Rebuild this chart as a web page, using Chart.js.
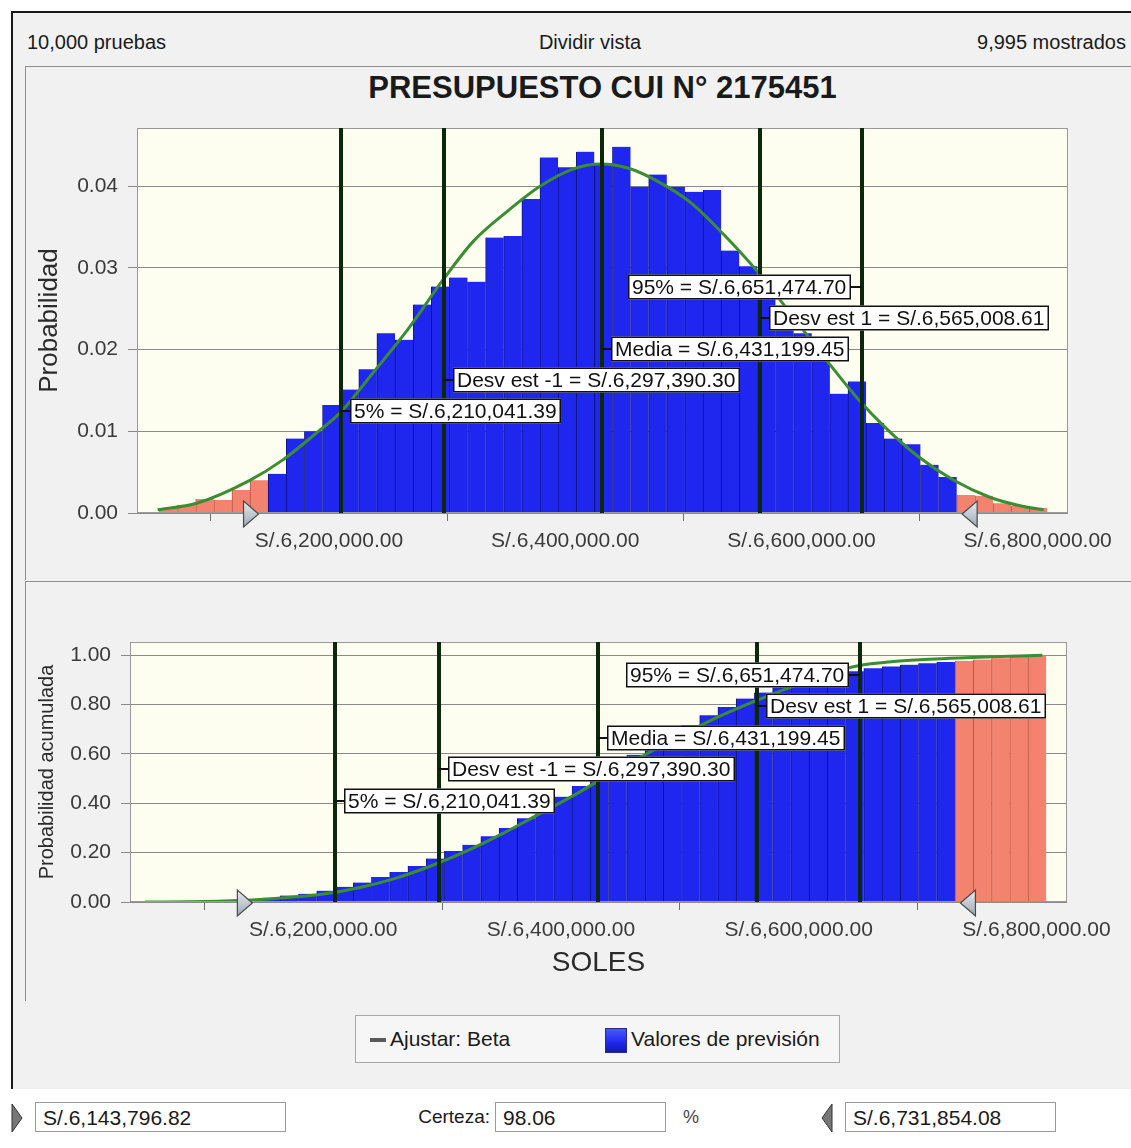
<!DOCTYPE html>
<html><head><meta charset="utf-8">
<script src="https://cdn.jsdelivr.net/npm/chart.js@4.4.1/dist/chart.umd.min.js"></script>
<style>
html,body{margin:0;padding:0;background:#fff;}
body{width:1131px;height:1148px;position:relative;overflow:hidden;font-family:"Liberation Sans",Arial,sans-serif;color:#1a1a1a;}
.abs{position:absolute;}
#frame{left:11px;top:11px;width:1130px;height:1076px;border-left:2px solid #1a1a1a;border-top:2px solid #1a1a1a;background:#f1f1f1;}
.hdr{top:30px;font-size:20px;line-height:24px;white-space:nowrap;}
.hline{height:0;border-top:1px solid #8e8e8e;}
.vline{width:0;border-left:1px solid #8e8e8e;}
#title{left:137px;width:931px;top:70px;line-height:36px;text-align:center;font-weight:bold;font-size:31px;}
canvas{position:absolute;left:0;}
#legend{left:355px;top:1015px;width:483px;height:46px;border:1px solid #a8a8a8;background:#f6f6f6;}
.lgi{position:absolute;top:0;height:46px;line-height:46px;font-size:21px;white-space:nowrap;}
.box{position:absolute;top:1102px;height:30px;background:#fff;border:1px solid #9a9a9a;font-size:21px;line-height:30px;padding-left:7px;box-sizing:border-box;white-space:nowrap;}
.lbl{position:absolute;top:1102px;height:30px;line-height:30px;font-size:21px;white-space:nowrap;}
</style>
</head>
<body>
<div id="frame" class="abs"></div>
<div class="abs hdr" style="left:27px;">10,000 pruebas</div>
<div class="abs hdr" style="left:490px;width:200px;text-align:center;">Dividir vista</div>
<div class="abs hdr" style="right:5px;">9,995 mostrados</div>
<div class="abs hline" style="left:25px;top:66px;width:1106px;"></div>
<div class="abs vline" style="left:25px;top:66px;height:514px;"></div>
<div class="abs hline" style="left:25px;top:581px;width:1106px;"></div>
<div class="abs vline" style="left:25px;top:581px;height:420px;"></div>
<div id="title" class="abs">PRESUPUESTO CUI N° 2175451</div>
<canvas id="c1" width="1131" height="470" style="top:100px;"></canvas>
<canvas id="c2" width="1131" height="400" style="top:600px;"></canvas>
<div id="legend" class="abs"></div>
<svg class="abs" style="left:10px;top:1102px;" width="14" height="32"><polygon points="2,2 12,16 2,30" fill="#777" stroke="#333"/></svg>
<div class="box" style="left:35px;width:251px;" id="fMin"></div>
<div class="lbl" style="left:390px;width:100px;text-align:right;font-size:19px;">Certeza:</div>
<div class="box" style="left:495px;width:171px;" id="fCert"></div>
<div class="lbl" style="left:683px;font-size:18px;color:#444;">%</div>
<svg class="abs" style="left:820px;top:1102px;" width="14" height="32"><polygon points="12,2 2,16 12,30" fill="#777" stroke="#333"/></svg>
<div class="box" style="left:845px;width:211px;" id="fMax"></div>

<script>
// ---------------- DATA ----------------
const binCenters = [6064190,6079530,6094870,6110210,6125550,6140890,6156230,6171570,6186910,6202250,
  6217590,6232930,6248270,6263610,6278950,6294290,6309630,6324970,6340310,6355650,
  6370990,6386330,6401670,6417010,6432350,6447690,6463030,6478370,6493710,6509050,
  6524390,6539730,6555070,6570410,6585750,6601090,6616430,6631770,6647110,6662450,
  6677790,6693130,6708470,6723810,6739150,6754490,6769830,6785170,6800510];
const probabilidad = [0.0006,0.0010,0.0017,0.0016,0.0028,0.0040,
  0.0048,0.0091,0.0100,0.0132,0.0151,0.0176,0.0220,0.0212,0.0255,0.0277,
  0.0288,0.0283,0.0337,0.0339,0.0384,0.0435,0.0423,0.0442,0.0428,0.0448,
  0.0399,0.0414,0.0399,0.0393,0.0395,0.0321,0.0302,0.0270,0.0250,0.0220,
  0.0200,0.0146,0.0161,0.0110,0.0091,0.0084,0.0059,0.0044,
  0.0022,0.0021,0.0012,0.0009,0.0006];
const acumulada = [0.0006,0.0016,0.0033,0.0049,0.0077,0.0117,
  0.017,0.026,0.033,0.046,0.062,0.079,0.101,0.122,0.146,0.176,
  0.207,0.232,0.267,0.300,0.340,0.382,0.427,0.470,0.513,0.557,
  0.597,0.638,0.678,0.718,0.757,0.790,0.825,0.849,0.871,0.890,
  0.908,0.921,0.935,0.948,0.955,0.962,0.968,0.973,
  0.978,0.983,0.988,0.994,0.999];
const ajusteX = [6055000,6088000,6133000,6161000,6192000,6209000,6237000,6266000,6297000,6322000,
  6351000,6379000,6407000,6430000,6453000,6478000,6506000,6534000,6563000,6593000,
  6625000,6650000,6670000,6698000,6729000,6760000,6788000,6805000];
const ajustePdf = [0.0004,0.0012,0.0040,0.0065,0.0101,0.0122,0.0171,0.0223,0.0286,0.0332,
  0.0369,0.0400,0.0421,0.0427,0.0422,0.0406,0.0380,0.0341,0.0295,0.0240,
  0.0180,0.0136,0.0106,0.0070,0.0040,0.0019,0.0008,0.0004];
const ajusteCdfX = [6050000,6100000,6140000,6170000,6200000,6230000,6260000,6290000,6320000,6350000,
  6380000,6410000,6440000,6470000,6500000,6530000,6560000,6590000,6620000,6650000,
  6680000,6710000,6740000,6770000,6805000];
const ajusteCdf = [0.000,0.002,0.008,0.018,0.032,0.058,0.095,0.145,0.205,0.275,
  0.352,0.430,0.515,0.595,0.672,0.745,0.808,0.865,0.918,0.958,
  0.975,0.984,0.990,0.995,1.000];
const xTicks = [6200000,6400000,6600000,6800000];
const yTicksProb = [0,0.01,0.02,0.03,0.04];
const yTicksAcum = [0,0.2,0.4,0.6,0.8,1.0];
const certezaMin = 6143796.82;
const certezaMax = 6731854.08;
const certeza = 98.06;
const marcadores = [
  {nombre:'95%', valor:6651474.70},
  {nombre:'Desv est 1', valor:6565008.61},
  {nombre:'Media', valor:6431199.45},
  {nombre:'Desv est -1', valor:6297390.30},
  {nombre:'5%', valor:6210041.39}
];
const serieAjuste = 'Ajustar: Beta';
const serieValores = 'Valores de previsión';

// ---------------- STYLE ----------------
const FONT = "'Liberation Sans', Arial, sans-serif";
Chart.defaults.font.family = FONT;
Chart.defaults.color = '#3a3a3a';
const AZUL = '#1f27ee', AZUL_B = '#0d1488', ROJO = '#f3826f', ROJO_B = '#b45544';
const fmt = v => v.toLocaleString('en-US',{minimumFractionDigits:2, maximumFractionDigits:2});
const enCerteza = x => x >= certezaMin && x <= certezaMax;
const barBg = binCenters.map(x => enCerteza(x) ? AZUL : ROJO);
const barBd = binCenters.map(x => enCerteza(x) ? AZUL_B : ROJO_B);

function deco(opts){
  return {
    id:'deco',
    beforeDraw(chart){
      const {ctx, chartArea:a} = chart;
      ctx.save(); ctx.fillStyle = '#fefef0';
      ctx.fillRect(a.left, a.top, a.right-a.left, a.bottom-a.top); ctx.restore();
    },
    afterDatasetsDraw(chart){
      const {ctx, chartArea:a, scales:{x}} = chart;
      ctx.save();
      ctx.strokeStyle = '#9a9a9a'; ctx.lineWidth = 1;
      ctx.strokeRect(a.left+0.5, a.top+0.5, a.right-a.left-1, a.bottom-a.top-1);
      marcadores.forEach(m => {
        const px = Math.round(x.getPixelForValue(m.valor));
        ctx.strokeStyle = '#0c280c'; ctx.lineWidth = 4;
        ctx.beginPath(); ctx.moveTo(px, a.top); ctx.lineTo(px, a.bottom); ctx.stroke();
      });
      ctx.font = '21px ' + FONT; ctx.textBaseline = 'middle';
      marcadores.forEach((m, i) => {
        const px = Math.round(x.getPixelForValue(m.valor));
        const cy = Math.round(a.top + opts.labelTop + i*opts.labelStep);
        const txt = m.nombre + ' = S/.' + fmt(m.valor);
        const w = Math.ceil(ctx.measureText(txt).width) + 8, h = 25;
        const izq = i === 0;
        const bx = izq ? px - 11 - w : px + 9;
        ctx.strokeStyle = '#111'; ctx.lineWidth = 2;
        ctx.beginPath(); ctx.moveTo(px, cy); ctx.lineTo(izq ? bx + w : bx, cy); ctx.stroke();
        ctx.fillStyle = '#fff'; ctx.fillRect(bx, cy - h/2, w, h);
        ctx.strokeStyle = '#111'; ctx.lineWidth = 1.5;
        ctx.strokeRect(bx + 0.75, cy - h/2 + 0.75, w - 1.5, h - 1.5);
        ctx.fillStyle = '#111'; ctx.fillText(txt, bx + 4, cy + 1);
      });
      const yb = a.bottom + 1;
      const tri = (tip, dir) => {
        const g = ctx.createLinearGradient(0, yb-13, 0, yb+13);
        g.addColorStop(0, '#e6ebf0'); g.addColorStop(1, '#9ea8b3');
        ctx.fillStyle = g; ctx.strokeStyle = '#4a4a4a'; ctx.lineWidth = 1.2;
        ctx.beginPath(); ctx.moveTo(tip, yb);
        ctx.lineTo(tip - dir*15, yb - 13); ctx.lineTo(tip - dir*15, yb + 13); ctx.closePath();
        ctx.fill(); ctx.stroke();
      };
      tri(x.getPixelForValue(certezaMin) - 4, 1);
      tri(x.getPixelForValue(certezaMax) + 5, -1);
      ctx.restore();
    }
  };
}

function makeChart(id, barVals, fitX, fitY, o){
  return new Chart(document.getElementById(id), {
    type:'bar',
    data:{datasets:[
      {type:'line', label:serieAjuste, order:0,
       data: fitX.map((x,i)=>({x, y:fitY[i]})),
       borderColor:'#3b8d34', borderWidth:3, pointRadius:0, tension:0.4, cubicInterpolationMode:'monotone', fill:false},
      {type:'bar', label:serieValores, order:1,
       data: binCenters.map((x,i)=>({x, y:barVals[i]})),
       backgroundColor:barBg, borderColor:barBd,
       borderWidth:{left:1, right:0, top:0, bottom:0}, borderSkipped:false,
       barPercentage:1, categoryPercentage:1}
    ]},
    options:{
      responsive:false, animation:false, devicePixelRatio:1,
      layout:{padding:{left:0, top:o.padTop, right:o.padRight, bottom:0}},
      plugins:{legend:{display:false}, tooltip:{enabled:false}},
      scales:{
        x:{type:'linear', min:6037500, max:6825700, offset:false,
           afterBuildTicks: s => { s.ticks = xTicks.map(v=>({value:v})); },
           afterFit: s => { s.height = o.xHeight; },
           ticks:{autoSkip:false, maxRotation:0, padding:8, color:'#3a3a3a', font:{size:21},
                  callback: v => 'S/.' + fmt(v)},
           grid:{drawOnChartArea:false, drawTicks:true, tickLength:8, color:'#707070'},
           border:{display:false},
           title: o.xTitle ? {display:true, text:o.xTitle, font:{size:28}, color:'#2a2a2a', padding:{top:0,bottom:20}} : {display:false}
        },
        y:{min:0, max:o.yMax,
           afterBuildTicks: s => { s.ticks = o.yTicks.map(v=>({value:v})); },
           afterFit: s => { s.width = o.yWidth; },
           ticks:{padding:10, color:'#3a3a3a', font:{size:21}, callback: v => Number(v).toFixed(2)},
           grid:{color:'#8a8a8a', lineWidth:1, tickLength:9, drawTicks:true},
           border:{display:false},
           title:{display:true, text:o.yTitle, font:{size:o.yTitleSize}, color:'#2a2a2a', padding:{top:o.yTitlePad, bottom:0}}
        }
      }
    },
    plugins:[deco(o)]
  });
}

const c1 = makeChart('c1', probabilidad, ajusteX, ajustePdf, {
  padTop:28, padRight:63, xHeight:57, yWidth:137, yMax:0.0471, yTicks:yTicksProb,
  yTitle:'Probabilidad', yTitleSize:26, yTitlePad:34, labelTop:158.5, labelStep:31
});
const c2 = makeChart('c2', acumulada, ajusteCdfX, ajusteCdf, {
  padTop:42, padRight:64, xHeight:98, yWidth:130, yMax:1.054, yTicks:yTicksAcum,
  yTitle:'Probabilidad acumulada', yTitleSize:20, yTitlePad:35, labelTop:32.5, labelStep:31.5,
  xTitle:'SOLES'
});

// legend built from the chart's datasets
const lg = document.getElementById('legend');
const ds = c1.data.datasets;
lg.innerHTML =
  '<div class="lgi" style="left:14px;"><span style="display:inline-block;width:16px;height:0;border-top:4px solid #5a5a5a;vertical-align:middle;margin-right:4px;"></span>' + ds[0].label + '</div>' +
  '<div class="lgi" style="left:249px;"><span style="display:inline-block;width:22px;height:25px;background:linear-gradient(#4a58ff,#1f27ee 60%,#1418b0);border:1px solid #2a2a80;vertical-align:middle;margin-right:4px;box-sizing:border-box;"></span>' + ds[1].label + '</div>';
document.getElementById('fMin').textContent = 'S/.' + fmt(certezaMin);
document.getElementById('fMax').textContent = 'S/.' + fmt(certezaMax);
document.getElementById('fCert').textContent = certeza.toFixed(2);
</script>
</body></html>
